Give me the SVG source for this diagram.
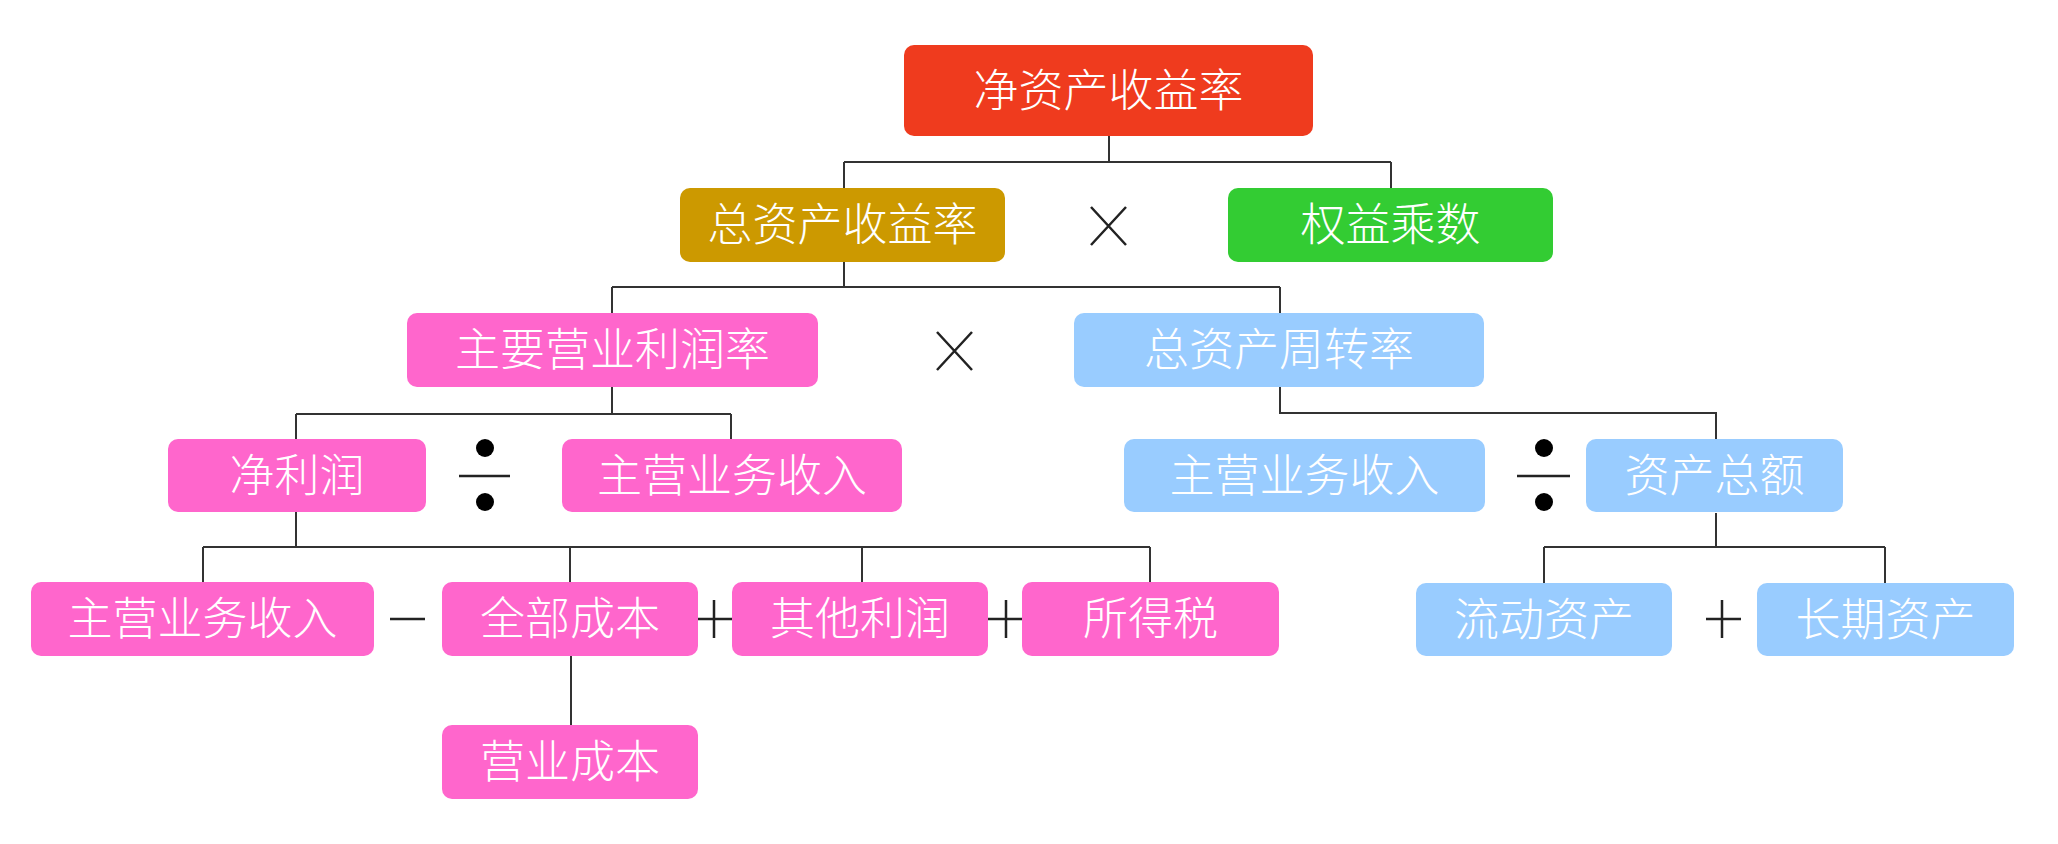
<svg xmlns="http://www.w3.org/2000/svg" width="2058" height="844" viewBox="0 0 2058 844">
<style>
.n rect{rx:10;ry:10}
.n text{font-family:"Noto Sans CJK SC","Noto Sans",sans-serif;font-size:45px;font-weight:300;fill:#fff;text-anchor:middle}
.red rect{fill:#EF3B1E}
.gold rect{fill:#CC9900}
.green rect{fill:#33CC33}
.pink rect{fill:#FF66CC}
.blue rect{fill:#99CCFF}
.c path{fill:none;stroke:#333;stroke-width:2}
.op{fill:none;stroke:#222;stroke-width:2.5}
.dot{fill:#000}
</style>
<rect width="2058" height="844" fill="#fff"/>
<g class="c" id="connectors">
<path d="M1109,136V162M844,162H1391M844,162V188M1391,162V188"/>
<path d="M844,262V287M612,287H1280M612,287V313M1280,287V313"/>
<path d="M612,387V414M296,414H731M296,414V439M731,414V439"/>
<path d="M1280,387V413H1716V439"/>
<path d="M296,512V547M203,547H1150M203,547V582M570,547V582M862,547V582M1150,547V582"/>
<path d="M571,656V725"/>
<path d="M1716,513V547M1544,547H1885M1544,547V583M1885,547V583"/>
</g>
<g id="operators">
<path class="op" d="M1091,207L1126,245M1126,207L1091,245" stroke-width="2"/>
<path class="op" d="M937,332L972,370M972,332L937,370" stroke-width="2"/>
<circle class="dot" cx="485" cy="448" r="9"/><circle class="dot" cx="485" cy="502" r="9"/><path class="op" d="M459,476H510" stroke-width="3"/>
<circle class="dot" cx="1544" cy="448" r="9"/><circle class="dot" cx="1544" cy="502" r="9"/><path class="op" d="M1517,476H1570" stroke-width="3"/>
<path class="op" d="M390,619H425" stroke-width="3"/>
<path class="op" d="M698,619H732M714,600V638"/>
<path class="op" d="M988,619H1022M1006,600V638"/>
<path class="op" d="M1706,619H1741M1722,600V638"/>
</g>
<g id="n_roe" class="n red"><rect x="904" y="45" width="409" height="91"/><text x="1108.5" y="107">净资产收益率</text></g>
<g id="n_roa" class="n gold"><rect x="680" y="188" width="325" height="74"/><text x="842.5" y="241">总资产收益率</text></g>
<g id="n_em" class="n green"><rect x="1228" y="188" width="325" height="74"/><text x="1390.5" y="241">权益乘数</text></g>
<g id="n_pm" class="n pink"><rect x="407" y="313" width="411" height="74"/><text x="612.5" y="366">主要营业利润率</text></g>
<g id="n_tat" class="n blue"><rect x="1074" y="313" width="410" height="74"/><text x="1279" y="366">总资产周转率</text></g>
<g id="n_np" class="n pink"><rect x="168" y="439" width="258" height="73"/><text x="297" y="492">净利润</text></g>
<g id="n_rev1" class="n pink"><rect x="562" y="439" width="340" height="73"/><text x="732" y="492">主营业务收入</text></g>
<g id="n_rev2" class="n blue"><rect x="1124" y="439" width="361" height="73"/><text x="1304.5" y="492">主营业务收入</text></g>
<g id="n_ta" class="n blue"><rect x="1586" y="439" width="257" height="73"/><text x="1714.5" y="492">资产总额</text></g>
<g id="n_rev3" class="n pink"><rect x="31" y="582" width="343" height="74"/><text x="202.5" y="635">主营业务收入</text></g>
<g id="n_cost" class="n pink"><rect x="442" y="582" width="256" height="74"/><text x="570" y="635">全部成本</text></g>
<g id="n_op" class="n pink"><rect x="732" y="582" width="256" height="74"/><text x="860" y="635">其他利润</text></g>
<g id="n_tax" class="n pink"><rect x="1022" y="582" width="257" height="74"/><text x="1150.5" y="635">所得税</text></g>
<g id="n_oc" class="n pink"><rect x="442" y="725" width="256" height="74"/><text x="570" y="778">营业成本</text></g>
<g id="n_ca" class="n blue"><rect x="1416" y="583" width="256" height="73"/><text x="1544" y="636">流动资产</text></g>
<g id="n_la" class="n blue"><rect x="1757" y="583" width="257" height="73"/><text x="1885.5" y="636">长期资产</text></g>
</svg>
